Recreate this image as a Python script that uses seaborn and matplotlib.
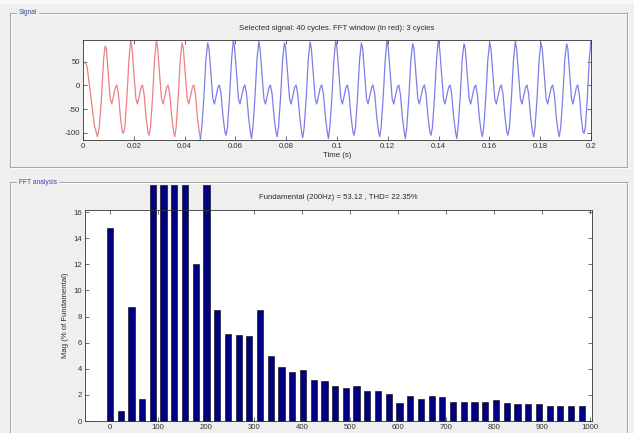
import numpy as np
import pandas as pd
import matplotlib
matplotlib.use("Agg")
import matplotlib.pyplot as plt
from matplotlib.lines import Line2D
import seaborn as sns

# ---------------- data ----------------
# Signal panel: peak times / values of each big oscillation (s, value)
peak_t = [0.0087, 0.0188, 0.0289, 0.0390, 0.0491, 0.0592, 0.0692, 0.0793, 0.0894, 0.0995,
          0.1096, 0.1197, 0.1298, 0.1399, 0.1500, 0.1601, 0.1702, 0.1803, 0.1904, 0.2000]
peak_v = [83, 96, 96, 90, 90, 96, 93, 90, 92, 96, 90, 96, 88, 96, 88, 91, 93, 90, 88, 96]
# trough following each peak
trough_v = [-101, -105, -108, -113, -105, -112, -108, -110, -112, -105,
            -108, -112, -105, -112, -108, -105, -108, -108, -101]
# shape of one oscillation between two peaks (fraction of period, value); None = trough
shape_phase = [0.05, 0.13, 0.20, 0.26, 0.33, 0.40, 0.455, 0.52, 0.60, 0.67, 0.715, 0.77, 0.85, 0.93]
shape_val = [78, 20, -28, -39, -22, -4, 1, -18, -68, -98, None, -88, -25, 55]
# start of the record before the first peak
lead_t = [0.0, 0.0008, 0.0016, 0.0030, 0.0045, 0.0057, 0.0064, 0.0073, 0.0081]
lead_v = [45, 50, 40, -20, -85, -108, -88, -25, 55]
red_last_trough = 3  # FFT window (red) ends at this trough

# FFT panel
freqs = [0.0, 22.3, 44.7, 67.0, 89.3, 111.7, 134.0, 156.3, 178.7, 201.0, 223.3, 245.7,
         268.0, 290.3, 312.7, 335.0, 357.3, 379.7, 402.0, 424.3, 446.7, 469.0, 491.3,
         513.7, 536.0, 558.3, 580.7, 603.0, 625.3, 647.7, 670.0, 692.3, 714.7, 737.0,
         759.3, 781.7, 804.0, 826.3, 848.7, 871.0, 893.3, 915.7, 938.0, 960.3, 982.7]
mags = [14.8, 0.8, 8.7, 1.65, 18.1, 18.1, 18.1, 18.1, 12.0, 18.1, 8.5, 6.66, 6.55, 6.5,
        8.5, 5.0, 4.15, 3.74, 3.94, 3.12, 3.05, 2.69, 2.53, 2.69, 2.28, 2.33, 2.05, 1.41,
        1.95, 1.72, 1.95, 1.84, 1.48, 1.48, 1.48, 1.48, 1.59, 1.36, 1.33, 1.31, 1.28,
        1.15, 1.15, 1.13, 1.13]

sig_xticks = [0, 0.02, 0.04, 0.06, 0.08, 0.1, 0.12, 0.14, 0.16, 0.18, 0.2]
sig_xlabels = ["0", "0.02", "0.04", "0.06", "0.08", "0.1", "0.12", "0.14", "0.16", "0.18", "0.2"]
sig_yticks = [-100, -50, 0, 50]
fft_xticks = [0, 100, 200, 300, 400, 500, 600, 700, 800, 900, 1000]
fft_yticks = [0, 2, 4, 6, 8, 10, 12, 14, 16]

title_sig = "Selected signal: 40 cycles. FFT window (in red): 3 cycles"
title_fft = "Fundamental (200Hz) = 53.12 , THD= 22.35%"

# ---------------- build signal polyline from readings ----------------
sig_t = list(lead_t)
sig_v = list(lead_v)
trough_index = []
for k in range(len(peak_t) - 1):
    sig_t.append(peak_t[k]); sig_v.append(peak_v[k])
    T = peak_t[k + 1] - peak_t[k]
    for ph, val in zip(shape_phase, shape_val):
        sig_t.append(peak_t[k] + ph * T)
        if val is None:
            trough_index.append(len(sig_v))
            sig_v.append(trough_v[k])
        else:
            sig_v.append(val)
sig_t.append(peak_t[-1]); sig_v.append(peak_v[-1])

cut = trough_index[red_last_trough]
red_df = pd.DataFrame({"t": sig_t[:cut + 1], "v": sig_v[:cut + 1]})
blue_df = pd.DataFrame({"t": sig_t[cut:], "v": sig_v[cut:]})
fft_df = pd.DataFrame({"f": freqs, "m": mags})

# ---------------- figure ----------------
W, H = 634, 433
plt.rcParams["font.family"] = ["Liberation Sans", "DejaVu Sans"]
plt.rcParams["axes.unicode_minus"] = False
fig = plt.figure(figsize=(W / 100, H / 100), dpi=100, facecolor="#efefef")

def fx(px):
    return px / W

def fy(py):
    return 1 - py / H

txt_col = "#2b2b2b"
fs = 5.6

# light band at the very top of the window
fig.add_artist(plt.Rectangle((0, fy(4)), 1, 4 / H, transform=fig.transFigure,
                             facecolor="#f8f8f8", edgecolor="none"))

# panels (uipanel-like frames)
def panel(x0, y0, x1, y1, label):
    for (xa, ya, xb, yb) in [(x0, y0, x1, y0), (x0, y0, x0, y1), (x1, y0, x1, y1), (x0, y1, x1, y1)]:
        fig.add_artist(Line2D([fx(xa), fx(xb)], [fy(ya), fy(yb)], color="#a8a8a8", lw=0.8))
        fig.add_artist(Line2D([fx(xa) + 1 / W, fx(xb) + 1 / W], [fy(ya) - 1 / H, fy(yb) - 1 / H],
                              color="#ffffff", lw=0.6))
    fig.text(fx(x0 + 9), fy(y0), label, fontsize=4.8, color="#3a4aa8", va="center", ha="left",
             bbox=dict(facecolor="#efefef", edgecolor="none", pad=1.2))

panel(10, 13, 627, 167, "Signal")
panel(10, 182, 627, 440, "FFT analysis")

# ---------------- signal axes ----------------
ax1 = fig.add_axes([fx(83), fy(140), fx(591) - fx(83), fy(40) - fy(140)])
ax1.set_facecolor("white")
sns.lineplot(data=red_df, x="t", y="v", ax=ax1, color="#ec8082", lw=0.9, estimator=None, sort=False)
sns.lineplot(data=blue_df, x="t", y="v", ax=ax1, color="#7c7ee6", lw=0.9, estimator=None, sort=False)
ax1.set_xlim(0, 0.2)
ax1.set_ylim(-115, 96)
ax1.set_xticks(sig_xticks)
ax1.set_xticklabels(sig_xlabels)
ax1.set_yticks(sig_yticks)
ax1.set_xlabel("Time (s)", fontsize=fs, color=txt_col, labelpad=1.5)
ax1.set_ylabel("")
ax1.text(0.5, 1.11, title_sig, transform=ax1.transAxes, ha="center", va="center",
         fontsize=fs, color=txt_col)

# ---------------- FFT axes ----------------
ax2 = fig.add_axes([fx(85), fy(421), fx(592) - fx(85), fy(209.5) - fy(421)])
ax2.set_facecolor("white")
sns.barplot(data=fft_df, x="f", y="m", ax=ax2, native_scale=True, width=0.58,
            color="#000080", saturation=1, edgecolor="#000000", linewidth=0.4, errorbar=None)
for p in ax2.patches:
    p.set_clip_on(False)
ax2.set_xlim(-52, 1004)
ax2.set_ylim(0, 16.2)
ax2.set_xticks(fft_xticks)
ax2.set_xticklabels([str(v) for v in fft_xticks])
ax2.set_yticks(fft_yticks)
ax2.set_xlabel("")
ax2.set_ylabel("Mag (% of Fundamental)", fontsize=fs, color=txt_col, labelpad=3)
ax2.text(0.5, 1.059, title_fft, transform=ax2.transAxes, ha="center", va="center",
         fontsize=fs, color=txt_col)

for ax in (ax1, ax2):
    ax.tick_params(direction="in", top=True, right=True, length=3, width=0.5,
                   labelsize=fs, colors="#333333", pad=2)
    for s in ax.spines.values():
        s.set_linewidth(0.6)
        s.set_color("#333333")

fig.savefig("out.png", dpi=100, facecolor=fig.get_facecolor())
